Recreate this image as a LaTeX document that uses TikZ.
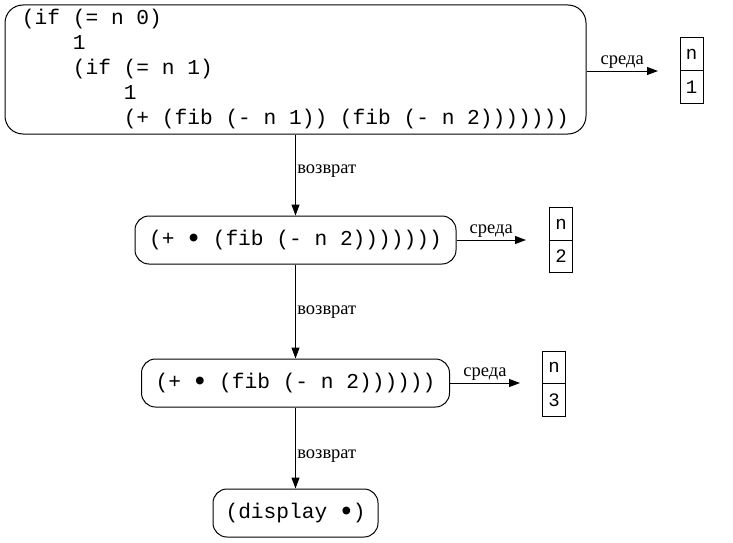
\documentclass[tikz,border=0pt]{standalone}
\usepackage{fontspec}
\setmainfont{Liberation Serif}
\setmonofont{Liberation Mono}
\usetikzlibrary{arrows.meta}
\newcommand{\hole}{\makebox[0.6em]{\raisebox{-0.1em}{\scalebox{1.35}{•}}}}

\begin{document}
\begin{tikzpicture}[x=1pt,y=-1pt, line width=1pt,
  code/.style={draw, rounded corners=14pt, inner sep=0pt, minimum height=48pt,
    font=\ttfamily\fontsize{21.2}{25}\selectfont},
  cell/.style={draw, inner sep=0pt, minimum width=23pt, minimum height=32.5pt,
    font=\ttfamily\fontsize{19}{19}\selectfont},
  link/.style={-{Triangle[length=11pt, width=8pt]}},
  lbl/.style={font=\fontsize{18.5}{18.5}\selectfont}]
\useasboundingbox (0,0) rectangle (733,543);
\node[code, rounded corners=18pt, minimum width=581pt, minimum height=129pt, align=left] (code1) at (295.5,69.5)
  {(if (= n 0)\\~~~~1\\~~~~(if (= n 1)\\~~~~~~~~1\\~~~~~~~~(+ (fib (- n 1)) (fib (- n 2)))))))};
\node[code, minimum width=321pt] (code2) at (295.5,240) {(+ \hole{} (fib (- n 2)))))))};
\node[code, minimum width=308pt] (code3) at (295.5,383) {(+ \hole{} (fib (- n 2))))))};
\node[code, minimum width=165pt] (code4) at (295.5,513) {(display \hole)};
% frames
\node[cell] (env1n) at (691.5,54.25) {n};
\node[cell] (env1v) at (691.5,86.75) {1};
\node[cell] (env2n) at (561,224) {n};
\node[cell] (env2v) at (561,256.5) {2};
\node[cell] (env3n) at (554,367.5) {n};
\node[cell] (env3v) at (554,400) {3};
\coordinate (e1) at (658,71);
\coordinate (e2) at (526,240);
\coordinate (e3) at (520,383);
\draw[link] (code1.east |- e1) -- node[lbl, above, yshift=-1pt] {среда} (e1);
\draw[link] (code2.east) -- node[lbl, above, yshift=-1pt] {среда} (e2);
\draw[link] (code3.east) -- node[lbl, above, yshift=-1pt] {среда} (e3);
\draw[link] (code1) -- node[lbl, right, xshift=-2pt, yshift=4pt] {возврат} (code2);
\draw[link] (code2) -- node[lbl, right, xshift=-2pt, yshift=-1pt] {возврат} (code3);
\draw[link] (code3) -- node[lbl, right, xshift=-2pt, yshift=-8pt] {возврат} (code4);
\end{tikzpicture}
\end{document}
